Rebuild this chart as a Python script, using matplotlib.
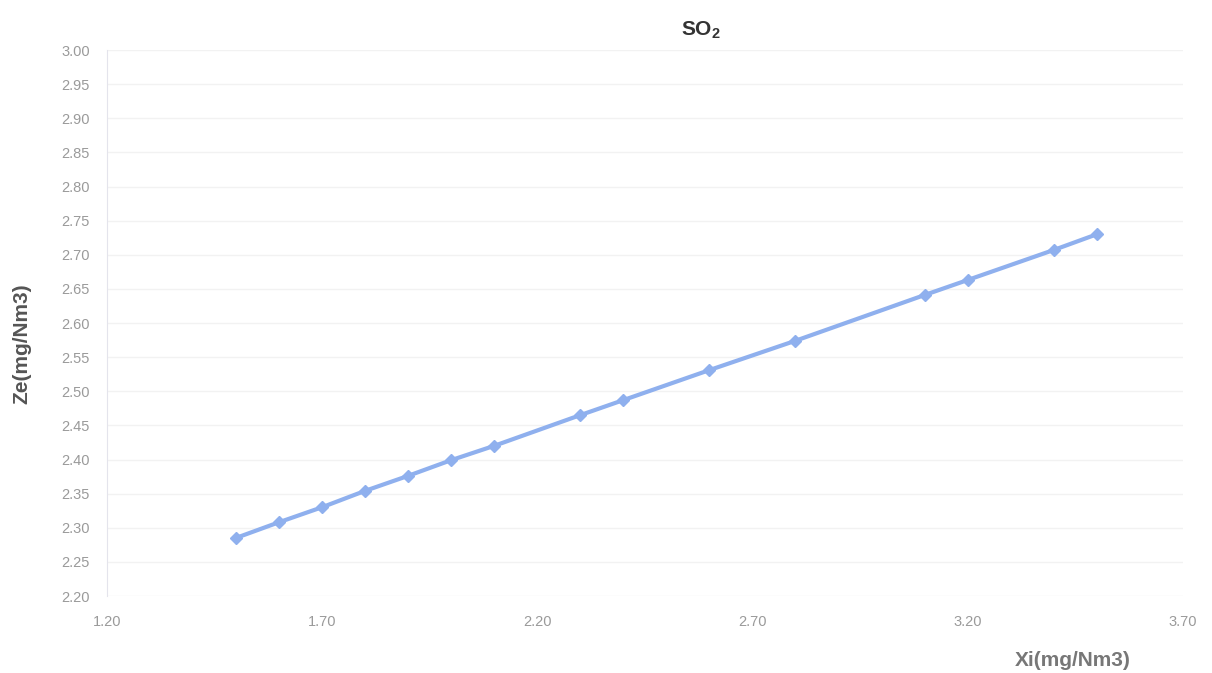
import numpy as np
import matplotlib.pyplot as plt

plt.rcParams['font.family'] = ['Liberation Sans', 'DejaVu Sans']
plt.rcParams['mathtext.default'] = 'regular'

# data
xi = [1.50, 1.60, 1.70, 1.80, 1.90, 2.00, 2.10, 2.30, 2.40, 2.60, 2.80, 3.10, 3.20, 3.40, 3.50]
ze = [2.285, 2.308, 2.330, 2.354, 2.376, 2.399, 2.420, 2.465, 2.487, 2.531, 2.574, 2.641, 2.663, 2.707, 2.730]

x_ticks = [1.20, 1.70, 2.20, 2.70, 3.20, 3.70]
y_ticks = np.arange(2.20, 3.001, 0.05)

line_color = "#8fb0ee"
tick_color = "#9a9a9a"

fig = plt.figure(figsize=(12.12, 6.73), dpi=100)
ax = fig.add_axes([0.088, 0.1144, 0.888, 0.8113])

ax.plot(xi, ze, color=line_color, linewidth=3, marker="D", markersize=6.5,
        markerfacecolor=line_color, markeredgecolor=line_color)

ax.set_xlim(1.20, 3.70)
ax.set_ylim(2.20, 3.00)
ax.set_xticks(x_ticks)
ax.set_yticks(y_ticks)
ax.set_xticklabels(["%.2f" % v for v in x_ticks])
ax.set_yticklabels(["%.2f" % v for v in y_ticks])
ax.tick_params(axis="both", colors=tick_color, labelsize=10.5, length=0, pad=12)
ax.tick_params(axis="x", pad=14)

ax.yaxis.grid(True, color="#f2f2f2", linewidth=1)
ax.set_axisbelow(True)
for side in ["top", "right", "bottom"]:
    ax.spines[side].set_visible(False)
ax.spines["left"].set_color("#e4e4ec")

fig.text(0.578, 0.955, "SO$_2$", ha="center", va="center", fontsize=15,
         fontweight="bold", color="#333333")
fig.text(0.018, 0.49, "Ze(mg/Nm3)", rotation=90, ha="center", va="center",
         fontsize=15, fontweight="bold", color="#555555")
fig.text(0.885, 0.018, "Xi(mg/Nm3)", ha="center", va="center",
         fontsize=15, fontweight="bold", color="#777777")

fig.savefig("out.png", dpi=100)
